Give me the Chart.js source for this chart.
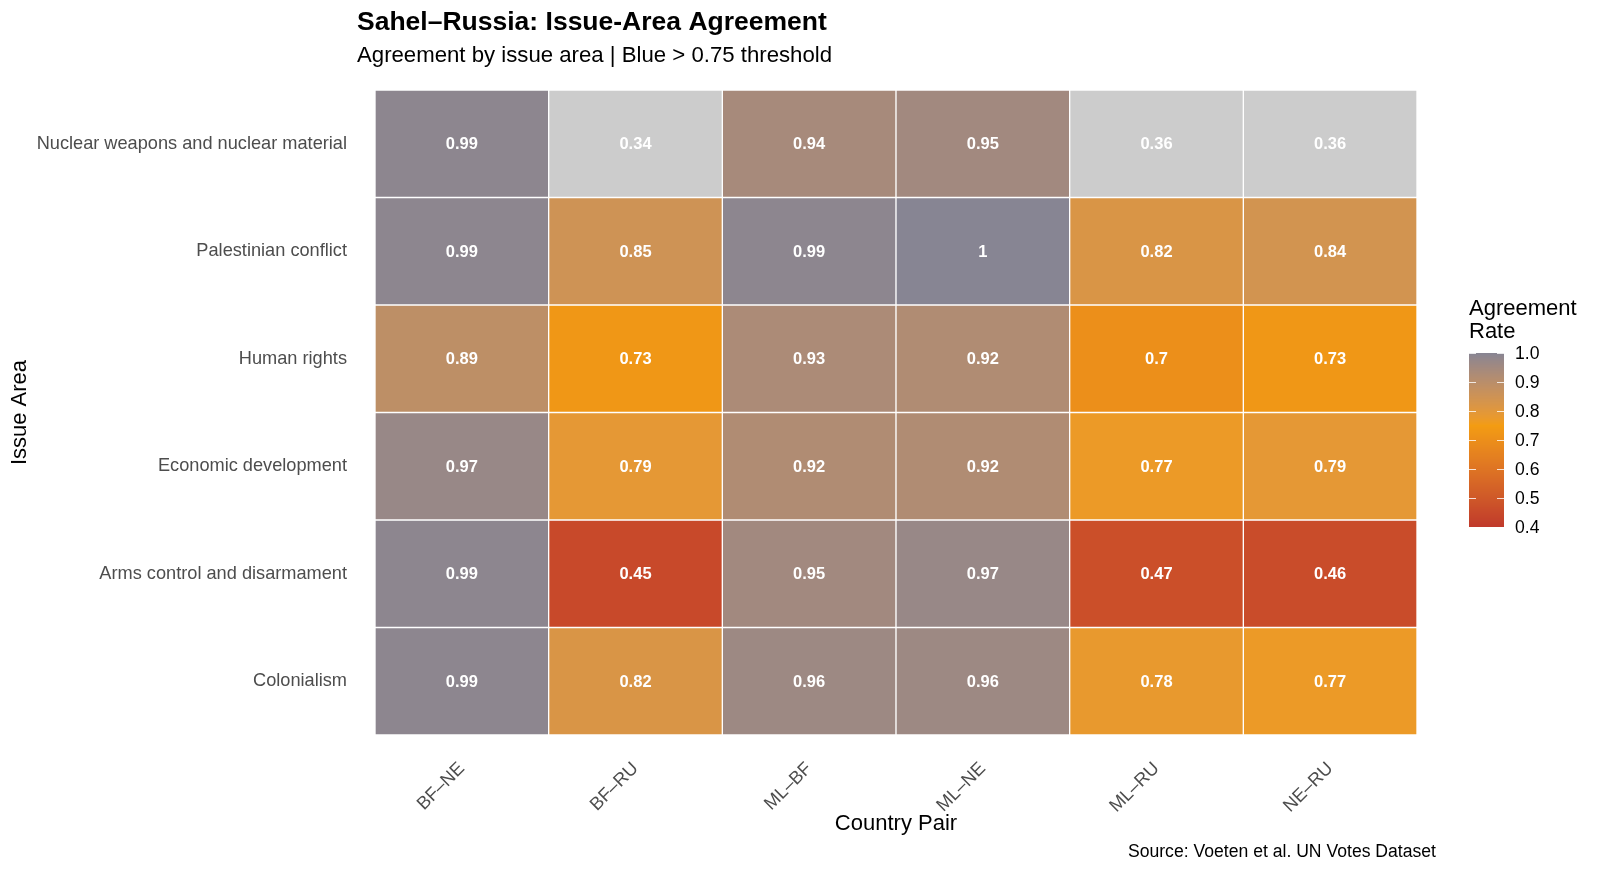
<!DOCTYPE html>
<html>
<head>
<meta charset="utf-8">
<title>Sahel–Russia: Issue-Area Agreement</title>
<script src="https://cdn.jsdelivr.net/npm/chart.js@4.4.1/dist/chart.umd.min.js"></script>
<style>
  html, body { margin: 0; padding: 0; background: #fff; }
  #chart { display: block; }
</style>
</head>
<body>
<canvas id="chart" width="1600" height="873"></canvas>
<script>
// country pairs (columns) and issue areas (rows, top to bottom)
const pairs = ['BF–NE', 'BF–RU', 'ML–BF', 'ML–NE', 'ML–RU', 'NE–RU'];
const issues = [
  'Nuclear weapons and nuclear material',
  'Palestinian conflict',
  'Human rights',
  'Economic development',
  'Arms control and disarmament',
  'Colonialism'
];

// agreement rate per issue, one value per pair
const nuclear     = [0.99, 0.34, 0.94, 0.95, 0.36, 0.36];
const palestinian = [0.99, 0.85, 0.99, 1.00, 0.82, 0.84];
const humanRights = [0.89, 0.73, 0.93, 0.92, 0.70, 0.73];
const economic    = [0.97, 0.79, 0.92, 0.92, 0.77, 0.79];
const armsControl = [0.99, 0.45, 0.95, 0.97, 0.47, 0.46];
const colonialism = [0.99, 0.82, 0.96, 0.96, 0.78, 0.77];
const rows = [nuclear, palestinian, humanRights, economic, armsControl, colonialism];

const legendTicks = [0.4, 0.5, 0.6, 0.7, 0.8, 0.9, 1.0];

// colour scale: low / mid / high, interpolated in Lab like ggplot
const LOW = '#C0392B', MID = '#F39C12', HIGH = '#878593', NA_COL = '#CCCCCC';
const LIM_LO = 0.4, MIDPOINT = 0.75, LIM_HI = 1.0;

function hexToRgb(h) {
  h = h.replace('#', '');
  return [0, 2, 4].map(i => parseInt(h.substr(i, 2), 16));
}
function toLin(c) { c /= 255; return c <= 0.04045 ? c / 12.92 : Math.pow((c + 0.055) / 1.055, 2.4); }
function fromLin(c) { c = c <= 0.0031308 ? 12.92 * c : 1.055 * Math.pow(c, 1 / 2.4) - 0.055; return Math.max(0, Math.min(255, Math.round(c * 255))); }
function rgbToLab(rgb) {
  const [r, g, b] = rgb.map(toLin);
  let x = (r * 0.4124 + g * 0.3576 + b * 0.1805) / 0.95047;
  let y = (r * 0.2126 + g * 0.7152 + b * 0.0722);
  let z = (r * 0.0193 + g * 0.1192 + b * 0.9505) / 1.08883;
  const f = t => t > 0.008856 ? Math.cbrt(t) : 7.787 * t + 16 / 116;
  x = f(x); y = f(y); z = f(z);
  return [116 * y - 16, 500 * (x - y), 200 * (y - z)];
}
function labToRgb(lab) {
  const fy = (lab[0] + 16) / 116, fx = fy + lab[1] / 500, fz = fy - lab[2] / 200;
  const inv = t => t * t * t > 0.008856 ? t * t * t : (t - 16 / 116) / 7.787;
  const x = inv(fx) * 0.95047, y = inv(fy), z = inv(fz) * 1.08883;
  const r = x * 3.2406 + y * -1.5372 + z * -0.4986;
  const g = x * -0.9689 + y * 1.8758 + z * 0.0415;
  const b = x * 0.0557 + y * -0.2040 + z * 1.0570;
  return [fromLin(r), fromLin(g), fromLin(b)];
}
function mix(a, b, t) {
  const la = rgbToLab(hexToRgb(a)), lb = rgbToLab(hexToRgb(b));
  const [r, g, bl] = labToRgb(la.map((v, i) => v + (lb[i] - v) * t));
  return `rgb(${r},${g},${bl})`;
}
function fillFor(v) {
  if (v < LIM_LO || v > LIM_HI) return NA_COL;
  if (v <= MIDPOINT) return mix(LOW, MID, (v - LIM_LO) / (MIDPOINT - LIM_LO));
  return mix(MID, HIGH, (v - MIDPOINT) / (LIM_HI - MIDPOINT));
}
const fmt = v => String(+v.toFixed(2));

const FONT = '"Liberation Sans", Arial, sans-serif';

// one floating-bar dataset per issue row: row i spans [i, i+1] on the y scale
const datasets = rows.map((vals, i) => ({
  label: issues[i],
  data: vals.map(() => [i, i + 1]),
  values: vals,
  backgroundColor: vals.map(fillFor),
  borderColor: '#ffffff',
  borderWidth: 1,
  borderSkipped: false,
  barPercentage: 1,
  categoryPercentage: 1,
  grouped: false
}));

const cellLabels = {
  id: 'cellLabels',
  afterDatasetsDraw(chart) {
    const ctx = chart.ctx;
    ctx.save();
    ctx.fillStyle = '#ffffff';
    ctx.font = `bold 16.5px ${FONT}`;
    ctx.textAlign = 'center';
    ctx.textBaseline = 'middle';
    chart.data.datasets.forEach((ds, di) => {
      chart.getDatasetMeta(di).data.forEach((bar, j) => {
        const p = bar.getCenterPoint();
        ctx.fillText(fmt(ds.values[j]), p.x, p.y + 1);
      });
    });
    ctx.restore();
  }
};

const decorations = {
  id: 'decorations',
  afterDraw(chart) {
    const ctx = chart.ctx;
    const area = chart.chartArea;
    ctx.save();
    // titles
    ctx.textAlign = 'left';
    ctx.textBaseline = 'alphabetic';
    ctx.fillStyle = '#000000';
    ctx.font = `bold 26.5px ${FONT}`;
    ctx.fillText('Sahel–Russia: Issue-Area Agreement', 357, 30);
    ctx.font = `22.2px ${FONT}`;
    ctx.fillText('Agreement by issue area | Blue > 0.75 threshold', 357, 62);

    // axis titles
    ctx.font = `22px ${FONT}`;
    ctx.textAlign = 'center';
    ctx.fillText('Country Pair', (area.left + area.right) / 2, 830);
    ctx.save();
    ctx.translate(20, (area.top + area.bottom) / 2);
    ctx.rotate(-Math.PI / 2);
    ctx.textBaseline = 'middle';
    ctx.fillText('Issue Area', 0, 0);
    ctx.restore();

    // caption
    ctx.textAlign = 'right';
    ctx.font = `17.6px ${FONT}`;
    ctx.fillText('Source: Voeten et al. UN Votes Dataset', 1436, 857);

    // colour bar legend
    const bx = 1469, bw = 35, top = 353, bottom = 527;
    const yOf = v => bottom - (v - LIM_LO) / (LIM_HI - LIM_LO) * (bottom - top);
    for (let y = top; y < bottom; y++) {
      const v = LIM_HI - (y - top + 0.5) / (bottom - top) * (LIM_HI - LIM_LO);
      ctx.fillStyle = fillFor(v);
      ctx.fillRect(bx, y, bw, 1);
    }
    ctx.strokeStyle = 'rgba(255,255,255,0.8)';
    ctx.lineWidth = 1;
    ctx.fillStyle = '#000000';
    ctx.textAlign = 'left';
    ctx.textBaseline = 'middle';
    ctx.font = `17.6px ${FONT}`;
    legendTicks.forEach(v => {
      const y = Math.round(yOf(v)) + 0.5;
      ctx.beginPath();
      ctx.moveTo(bx, y); ctx.lineTo(bx + 7, y);
      ctx.moveTo(bx + bw - 7, y); ctx.lineTo(bx + bw, y);
      ctx.stroke();
      ctx.fillText(v.toFixed(1), 1515, yOf(v) + 1);
    });
    ctx.textBaseline = 'alphabetic';
    ctx.font = `22px ${FONT}`;
    ctx.fillText('Agreement', bx, 315);
    ctx.fillText('Rate', bx, 338);
    ctx.restore();
  }
};

new Chart(document.getElementById('chart').getContext('2d'), {
  type: 'bar',
  data: { labels: pairs, datasets: datasets },
  options: {
    responsive: false,
    animation: false,
    devicePixelRatio: 1,
    layout: { padding: { top: 90, right: 183, bottom: 0, left: 0 } },
    plugins: {
      legend: { display: false },
      title: { display: false },
      tooltip: { enabled: false }
    },
    scales: {
      x: {
        type: 'category',
        offset: true,
        grid: { display: false },
        border: { display: false },
        ticks: {
          color: '#4D4D4D',
          font: { family: FONT, size: 18.2 },
          minRotation: 45,
          maxRotation: 45,
          padding: 15
        },
        afterFit(scale) { scale.height = 138; }
      },
      y: {
        type: 'linear',
        min: 0,
        max: 6,
        reverse: true,
        grid: { display: false },
        border: { display: false },
        afterBuildTicks(scale) {
          scale.ticks = issues.map((_, i) => ({ value: i + 0.5 }));
        },
        ticks: {
          color: '#4D4D4D',
          font: { family: FONT, size: 18.2 },
          padding: 20,
          callback: (value, index) => issues[index]
        },
        afterFit(scale) { scale.width = 375; }
      }
    }
  },
  plugins: [cellLabels, decorations]
});
</script>
</body>
</html>
